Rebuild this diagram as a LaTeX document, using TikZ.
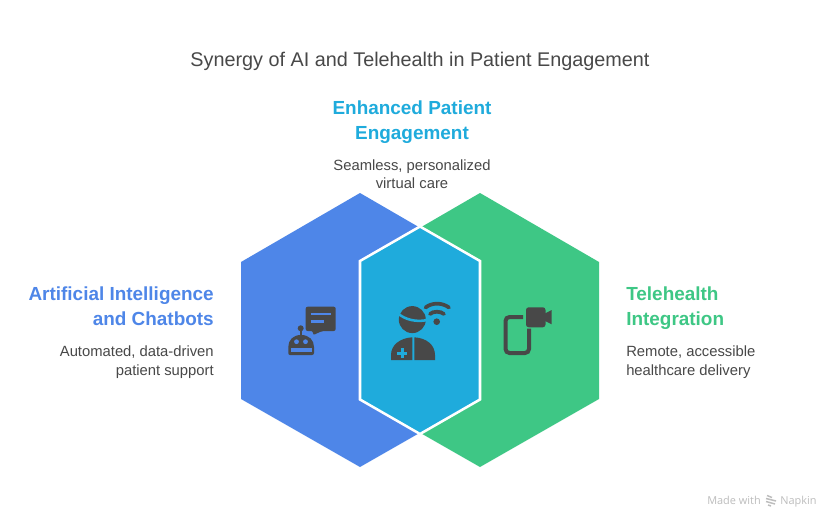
\documentclass[tikz,border=0pt]{standalone}
\usepackage{fontspec}
\setmainfont{Liberation Sans}
\newfontfamily\footfont{Open Sans}
\definecolor{cblue}{HTML}{4E86E8}
\definecolor{ccyan}{HTML}{1FABDC}
\definecolor{cgreen}{HTML}{3EC785}
\definecolor{cink}{HTML}{484848}
\definecolor{cfoot}{HTML}{BDBDBD}
\tikzset{
  titletext/.style={inner sep=0pt,text=cink,font=\fontsize{14.85}{18}\selectfont},
  headtext/.style={inner sep=0pt,font=\fontsize{14.2}{18.4}\selectfont\bfseries},
  bodytext/.style={inner sep=0pt,text=cink,font=\fontsize{11.1}{13.9}\selectfont},
  footertext/.style={inner sep=0pt,text=cfoot,font=\fontsize{8.2}{10}\footfont},
  icon/.style={fill=cink,draw=none},
  iconline/.style={draw=cink,fill=none},
}
\begin{document}
\begin{tikzpicture}[x=0.75pt,y=-0.75pt]
\useasboundingbox (0,0) rectangle (840,528);
\fill[white] (0,0) rectangle (840,528);
% hexagons
\fill[cblue] (360,193) -- (479,262) -- (479,399) -- (360,467) -- (241,399) -- (241,262) -- cycle;
\fill[cgreen] (480,193) -- (599,262) -- (599,399) -- (480,467) -- (361,399) -- (361,262) -- cycle;
\draw[white,line width=1.9pt,fill=ccyan,line join=miter] (420,226.5) -- (480,261) -- (480,399.5) -- (420,434) -- (360,399.5) -- (360,261) -- cycle;
% texts
\node[titletext] (title) at (420,61.5) {Synergy of AI and Telehealth in Patient Engagement};
\node[headtext,text=ccyan,align=center] (ctitle) at (412,122) {Enhanced Patient\\Engagement};
\node[bodytext,align=center] (cbody) at (412,174) {Seamless, personalized\\virtual care};
\node[headtext,text=cblue,align=right,anchor=east] (ltitle) at (214,306) {Artificial Intelligence\\and Chatbots};
\node[bodytext,align=right,anchor=east] (lbody) at (214,362) {Automated, data-driven\\patient support};
\node[headtext,text=cgreen,align=left,anchor=west] (rtitle) at (626,308) {Telehealth\\Integration};
\node[bodytext,align=left,anchor=west] (rbody) at (626,362) {Remote, accessible\\healthcare delivery};
% robot + speech bubble
\fill[icon,rounded corners=1.5pt] (305.7,306.7) -- (335.7,306.7) -- (335.7,331) -- (322,331) -- (313,335.2) -- (313,331) -- (305.7,331) -- cycle;
\draw[cblue,line width=1.9pt] (310.7,313.8) -- (330.7,313.8) (310.7,321.6) -- (324,321.6);
\fill[icon] (290,355) .. controls (289,355) and (288.3,354.3) .. (288.3,353) -- (288.3,347) .. controls (288.3,340) and (293,335) .. (301.1,335) .. controls (309,335) and (314,340) .. (314,347) -- (314,353) .. controls (314,354.3) and (313,355) .. (312,355) -- cycle;
\fill[cink] (300.7,328.3) circle[radius=3];
\draw[cink,line width=1.2pt] (300.7,328.3) -- (300.7,336);
\fill[cblue] (296.5,341.7) circle[radius=2.4] (305.5,341.7) circle[radius=2.4];
\fill[cblue] (290.8,348) rectangle (311.6,352);
% person
\fill[icon] (412.3,319.6) circle[radius=13.5];
\draw[ccyan,line width=1.9pt] (398,313.5) .. controls (405,319.5) and (416,322.5) .. (427.5,320);
\fill[icon] (412.3,337.3) .. controls (400,338) and (391,345) .. (391,355) -- (391,360) -- (412.3,360) -- cycle;
\fill[icon] (414.3,337.3) .. controls (426.6,338) and (435,345) .. (435,355) -- (435,360) -- (414.3,360) -- cycle;
\draw[ccyan,line width=1.8pt] (397.3,353.3) -- (407.3,353.3) (402.3,348.3) -- (402.3,358.3);
% wifi
\fill[cink] (436.7,321.7) circle[radius=3.3];
\draw[iconline,line width=2.8pt,line cap=round] (430,314) .. controls (433,311) and (440.5,311) .. (444,314);
\draw[iconline,line width=2.8pt,line cap=round] (425.5,307.5) .. controls (432,302.4) and (442,302.4) .. (449,307.5);
% phone + camera
\draw[iconline,line width=3pt,rounded corners=3pt] (523,317) -- (505.5,317) -- (505.5,353) -- (529,353) -- (529,328.5);
\fill[icon,rounded corners=2pt] (526,307.3) rectangle (545.5,327.3);
\fill[icon] (544,314) -- (551.7,310) -- (551.7,324.3) -- (544,320.5) -- cycle;
% footer
\node[footertext,anchor=base west] (made) at (707,504) {Made with};
\node[footertext,anchor=base west] (napkin) at (780,504) {Napkin};
\draw[cfoot,line width=1.1pt] (767,495.5) -- (772,497.5) (766,498.5) -- (776,501) (766,501.5) -- (775,504) (768,505) -- (771,506);
\end{tikzpicture}
\end{document}
